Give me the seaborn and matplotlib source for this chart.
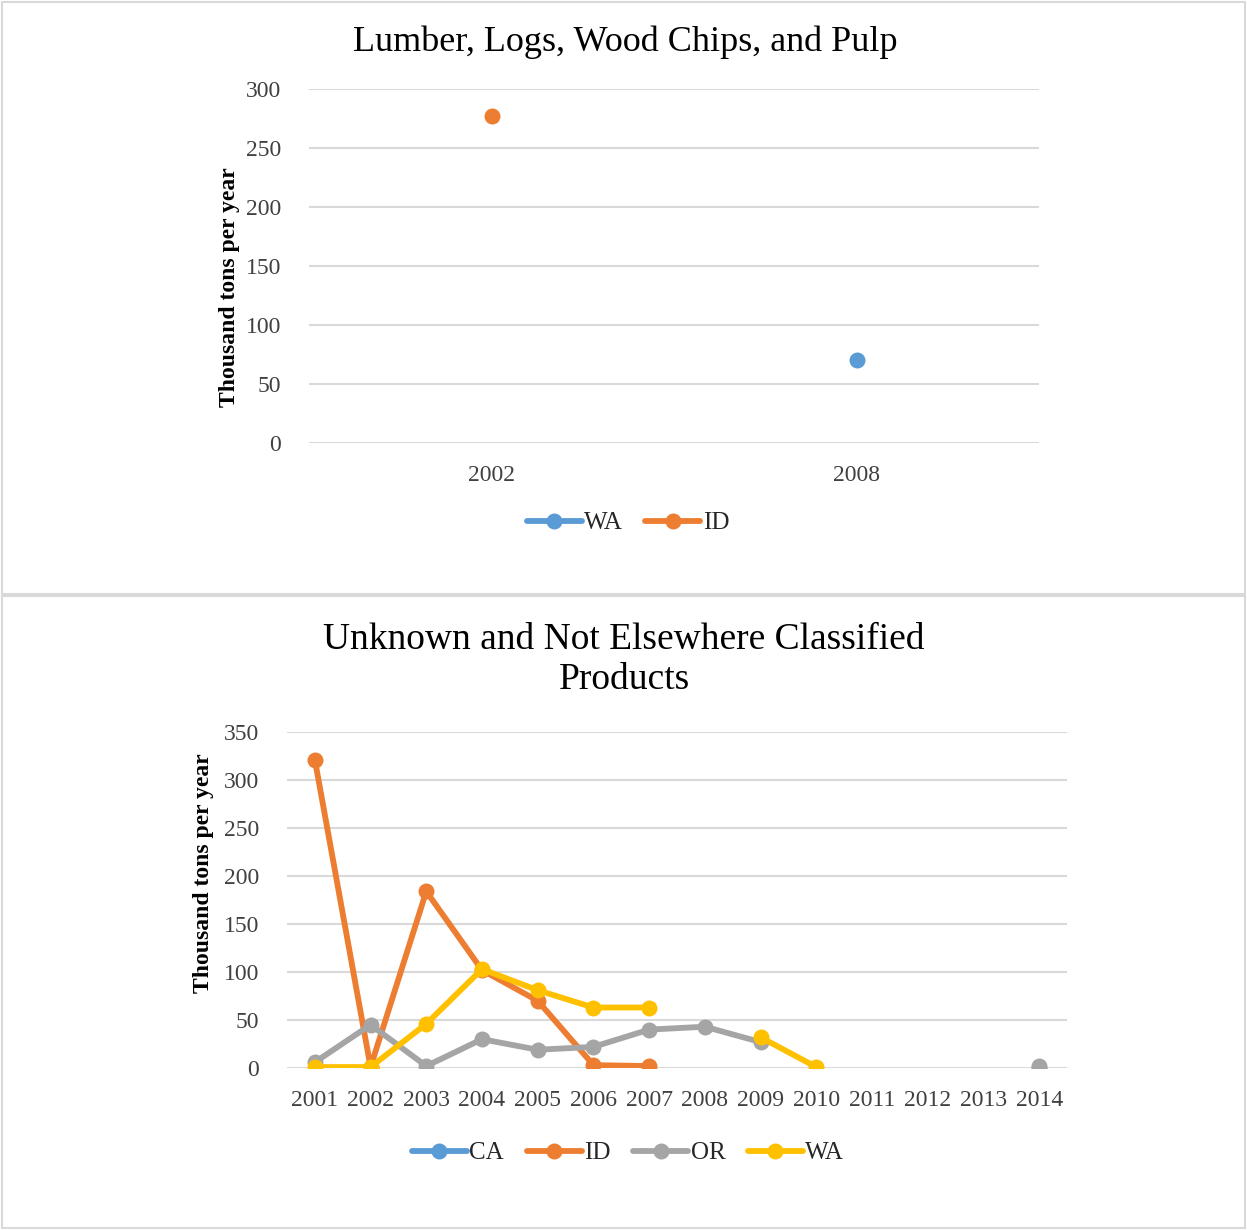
import numpy as np
import pandas as pd
import seaborn as sns
import matplotlib
matplotlib.use("Agg")
import matplotlib.pyplot as plt
from matplotlib.lines import Line2D
from matplotlib.patches import Rectangle

# ---- data ----
top_years = ["2002", "2008"]
top_wa = [np.nan, 70]
top_id = [277, np.nan]

bottom_years = list(range(2001, 2015))
bottom_ca = [np.nan] * 14
bottom_id = [321, 1, 184, 102, 70, 3, 2, np.nan, np.nan, np.nan, np.nan, np.nan, np.nan, 0]
bottom_or = [6, 45, 2, 30, 19, 22, 40, 43, 27, np.nan, np.nan, np.nan, np.nan, 2]
bottom_wa = [1, 1, 46, 103, 81, 63, 63, np.nan, 32, 1, np.nan, np.nan, np.nan, np.nan]

TOP_COLORS = {"WA": "#5B9BD5", "ID": "#ED7D31"}
BOTTOM_COLORS = {"CA": "#5B9BD5", "ID": "#ED7D31", "OR": "#A5A5A5", "WA": "#FFC000"}

LW = 4.2
MS = 11.5

sns.set_theme(style="white")
plt.rcParams["font.family"] = ["Liberation Serif", "DejaVu Serif"]


def long_frame(x, series):
    """Long table with a segment id so gaps (NaN) break the lines."""
    rows = []
    for name, vals in series.items():
        seg = 0
        prev_nan = True
        for i, v in enumerate(vals):
            if np.isnan(v):
                prev_nan = True
                continue
            if prev_nan:
                seg += 1
            prev_nan = False
            rows.append({"x": i, "year": x[i], "value": v, "state": name,
                         "seg": f"{name}-{seg}"})
    return pd.DataFrame(rows)


def style_axes(ax, yticks, xlabels):
    ax.set_ylim(yticks[0], yticks[-1])
    ax.set_yticks(yticks)
    ax.set_xlim(-0.5, len(xlabels) - 0.5)
    ax.set_xticks(range(len(xlabels)))
    ax.set_xticklabels(xlabels)
    for s in ax.spines.values():
        s.set_visible(False)
    ax.grid(axis="y", color="#d9d9d9", linewidth=1.5)
    ax.grid(axis="x", visible=False)
    ax.set_axisbelow(True)
    ax.tick_params(axis="both", length=0, labelsize=17, colors="#404040")
    ax.tick_params(axis="y", pad=20)
    ax.tick_params(axis="x", pad=16)
    ax.set_xlabel("")
    ax.set_ylabel("")


def legend_handles(colors, names):
    return [Line2D([], [], color=colors[s], marker="o", markersize=MS, linewidth=LW,
                   markeredgewidth=0, solid_capstyle="round") for s in names]


fig = plt.figure(figsize=(12.47, 12.30), dpi=100)

# panel frames
for y0, h in [(2 / 1230, 632 / 1230), (636 / 1230, 592 / 1230)]:
    fig.patches.append(Rectangle((2 / 1247, y0), 1243 / 1247, h,
                                 transform=fig.transFigure, fill=False,
                                 edgecolor="#d9d9d9", linewidth=1.5))

# ---- top chart ----
ax1 = fig.add_axes([309 / 1247, 1 - 443 / 1230, 730 / 1247, 354 / 1230])
df1 = long_frame(top_years, {"WA": top_wa, "ID": top_id})
sns.lineplot(data=df1, x="x", y="value", hue="state", units="seg",
             estimator=None, palette=TOP_COLORS, marker="o", markersize=MS,
             markeredgewidth=0, linewidth=LW, legend=False, ax=ax1)
style_axes(ax1, [0, 50, 100, 150, 200, 250, 300], top_years)
fig.text(625 / 1247, 1 - 42 / 1230, "Lumber, Logs, Wood Chips, and Pulp",
         ha="center", va="center", fontsize=26, color="#000000")
fig.text(230 / 1247, 1 - 287 / 1230, "Thousand tons per year", rotation=90,
         ha="center", va="center", fontsize=17, fontweight="bold", color="#000000")
fig.legend(legend_handles(TOP_COLORS, ["WA", "ID"]), ["WA", "ID"], loc="center",
           bbox_to_anchor=(628 / 1247, 1 - 523 / 1230),
           ncol=2, frameon=False, fontsize=18, handlelength=2.2, handletextpad=0.1,
           columnspacing=0.9)

# ---- bottom chart ----
ax2 = fig.add_axes([287 / 1247, 1 - 1068 / 1230, 780 / 1247, 336 / 1230])
df2 = long_frame(bottom_years, {"CA": bottom_ca, "ID": bottom_id,
                                "OR": bottom_or, "WA": bottom_wa})
sns.lineplot(data=df2, x="x", y="value", hue="state", units="seg",
             hue_order=["ID", "OR", "WA"],
             estimator=None, palette=BOTTOM_COLORS, marker="o", markersize=MS,
             markeredgewidth=0, linewidth=LW, legend=False, ax=ax2)
style_axes(ax2, [0, 50, 100, 150, 200, 250, 300, 350], [str(y) for y in bottom_years])
fig.text(624 / 1247, 1 - 660 / 1230, "Unknown and Not Elsewhere Classified\nProducts",
         ha="center", va="center", fontsize=27, color="#000000", linespacing=1.2)
fig.text(203 / 1247, 1 - 873 / 1230, "Thousand tons per year", rotation=90,
         ha="center", va="center", fontsize=17, fontweight="bold", color="#000000")
names = ["CA", "ID", "OR", "WA"]
fig.legend(legend_handles(BOTTOM_COLORS, names), names, loc="center",
           bbox_to_anchor=(628 / 1247, 1 - 1153 / 1230),
           ncol=4, frameon=False, fontsize=18, handlelength=2.2, handletextpad=0.1,
           columnspacing=0.9)

fig.savefig("out.png", dpi=100, facecolor="white")
